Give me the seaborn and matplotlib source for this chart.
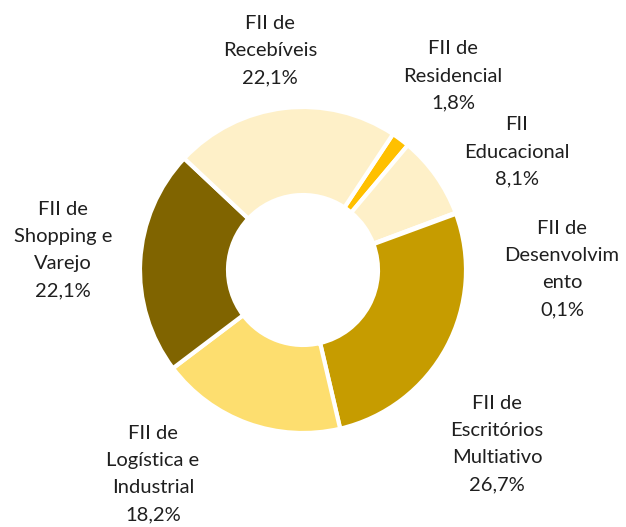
import matplotlib
matplotlib.use("Agg")
import matplotlib.pyplot as plt
import seaborn as sns

# slices, clockwise from the Residencial wedge
categories = ["FII de\nResidencial", "FII\nEducacional", "FII de\nDesenvolvim\nento",
              "FII de\nEscritórios\nMultiativo", "FII de\nLogística e\nIndustrial",
              "FII de\nShopping e\nVarejo", "FII de\nRecebíveis"]
shares = [1.8, 8.1, 0.1, 26.7, 18.2, 22.1, 22.1]
pct_labels = ["1,8%", "8,1%", "0,1%", "26,7%", "18,2%", "22,1%", "22,1%"]
colors = ["#FFC000", "#FEF0C8", "#FFE699", "#C69C00", "#FDDE6F", "#806400", "#FEF0C8"]

# label centres in pixels (x, y from top)
label_pos = [(453, 76), (517, 152), (562, 269), (497, 444), (153, 474), (63, 250), (270, 51)]

sns.set_theme(style="white")
plt.rcParams["font.family"] = ["Lato", "DejaVu Sans"]

W, H = 626, 527
fig = plt.figure(figsize=(W / 100, H / 100), dpi=100)
cx, cy, R = 303, 270, 163
ax = fig.add_axes([(cx - R) / W, (H - cy - R) / H, 2 * R / W, 2 * R / H])

ax.pie(shares, colors=sns.color_palette(colors), startangle=56.5, counterclock=False,
       radius=1, wedgeprops=dict(width=0.54, edgecolor="white", linewidth=3))
ax.set_xlim(-1, 1)
ax.set_ylim(-1, 1)
ax.set_aspect("equal")
ax.axis("off")

for cat, pct, (x, y) in zip(categories, pct_labels, label_pos):
    fig.text(x / W, 1 - y / H, cat + "\n" + pct, ha="center", va="center",
             fontsize=14.5, color="#1f1f1f", linespacing=1.72)

fig.savefig("out.png", dpi=100, facecolor="white")
